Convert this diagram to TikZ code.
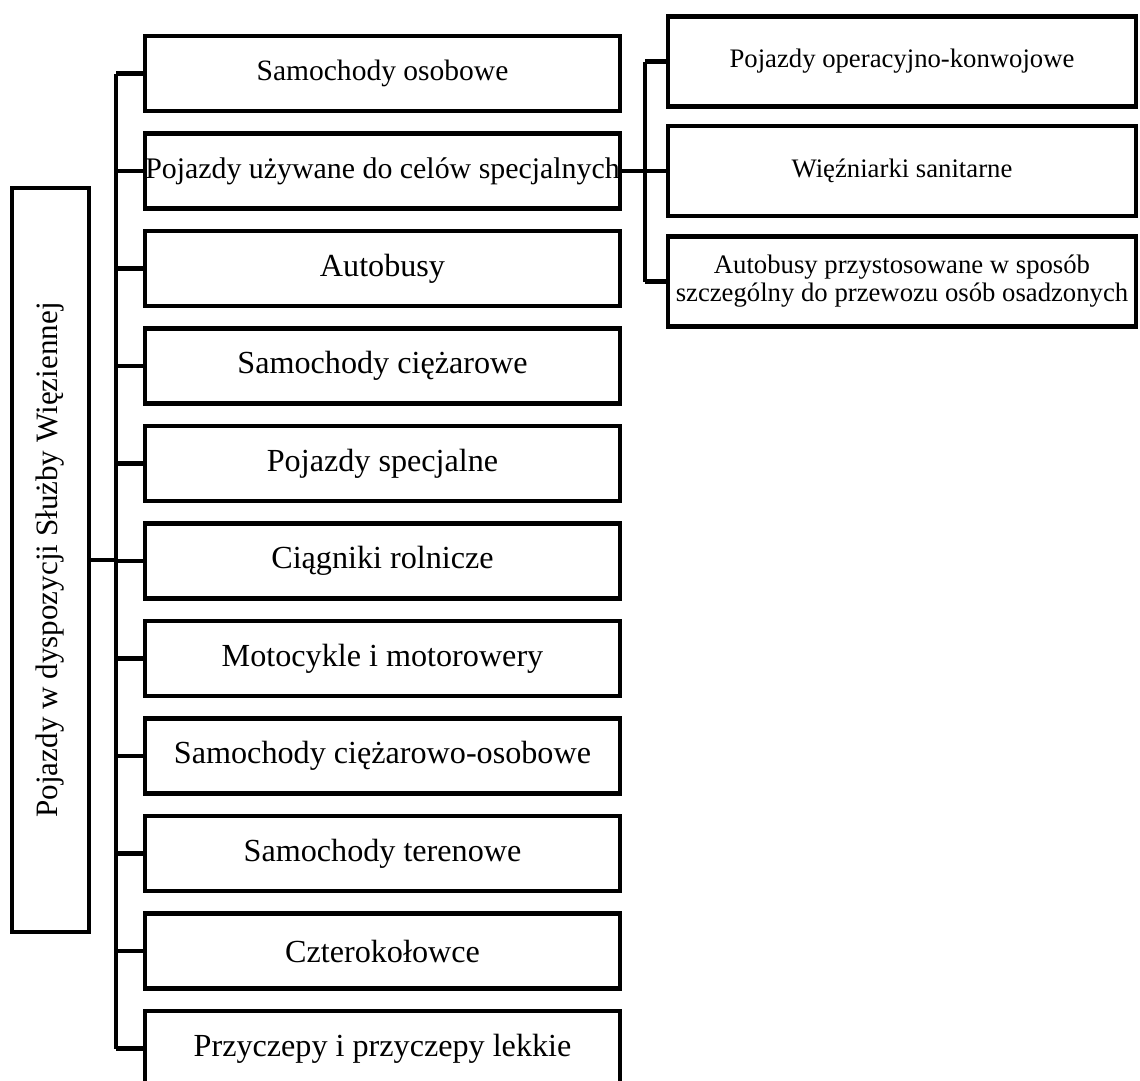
\documentclass[tikz,border=0pt]{standalone}
\usepackage{fontspec}
\setmainfont{Liberation Serif}
\usetikzlibrary{calc}
\tikzset{
  link/.style={black, line width=2.3pt},
  rootbox/.style={draw=black, line width=2.3pt, rotate=90, minimum width=14.88cm, minimum height=1.54cm, inner sep=0pt, font=\fontsize{17.7}{20}\selectfont},
  catbox/.style={draw=black, line width=2.3pt, minimum width=9.5cm, minimum height=1.5cm, inner sep=0pt, align=center},
  subbox/.style={draw=black, line width=2.3pt, minimum width=9.36cm, minimum height=1.8cm, inner sep=0pt, align=center, font=\fontsize{15.2}{16}\selectfont}
}

\begin{document}
\begin{tikzpicture}
  \useasboundingbox (0,0) rectangle (22.8,-21.62);
  \clip (0,0) rectangle (22.8,-21.62);
  \node[rootbox] (root) at (1.01,-11.2) {Pojazdy w dyspozycji Służby Więziennej};
  % vehicle categories
  \foreach \i/\s/\t in {1/16.8/Samochody osobowe,
                        2/17/Pojazdy używane do celów specjalnych,
                        3/18.3/Autobusy,
                        4/18.3/Samochody ciężarowe,
                        5/18.3/Pojazdy specjalne,
                        6/18.3/Ciągniki rolnicze,
                        7/18.3/Motocykle i motorowery,
                        8/18.3/Samochody ciężarowo-osobowe,
                        9/18.3/Samochody terenowe,
                        10/18.3/Czterokołowce,
                        11/18.3/Przyczepy i przyczepy lekkie}{
    \node[catbox, font=\fontsize{\s}{20}\selectfont] (m\i) at (7.65,{-1.47-1.95*(\i-1)}) {\t};
  }
  % special purpose vehicles
  \node[subbox] (r1) at (18.04,-1.23) {Pojazdy operacyjno-konwojowe};
  \node[subbox] (r2) at (18.04,-3.42) {Więźniarki sanitarne};
  \node[subbox] (r3) at (18.04,-5.63) {Autobusy przystosowane w sposób\\szczególny do przewozu osób osadzonych};
  \coordinate (trunk) at (2.32,-11.2);
  \coordinate (subtrunk) at (12.9,-3.42);
  \draw[link] (root.south) -- (trunk);
  \draw[link] (m1.west -| trunk) -- (m11.west -| trunk);
  \foreach \i in {1,...,11}{
    \draw[link] (m\i.west -| trunk) -- (m\i.west);
  }
  \draw[link] (m2.east) -- (r2.west);
  \draw[link] (r1.west -| subtrunk) -- (r3.west -| subtrunk);
  \foreach \i in {1,3}{
    \draw[link] (r\i.west -| subtrunk) -- (r\i.west);
  }
\end{tikzpicture}
\end{document}
